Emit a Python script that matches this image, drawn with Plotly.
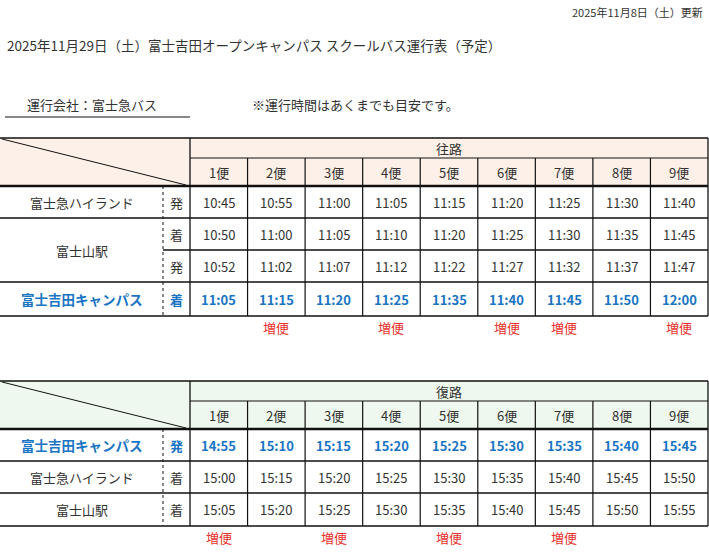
import plotly.graph_objects as go

updated = "2025年11月8日（土）更新"
title = "2025年11月29日（土）富士吉田オープンキャンパス スクールバス運行表（予定）"
company = "運行会社：富士急バス"
note = "※運行時間はあくまでも目安です。"
bins = ["1便", "2便", "3便", "4便", "5便", "6便", "7便", "8便", "9便"]

out_title = "往路"
out_stations = ["富士急ハイランド", "富士山駅", "富士山駅", "富士吉田キャンパス"]
out_kinds = ["発", "着", "発", "着"]
out_times = [
    ["10:45", "10:55", "11:00", "11:05", "11:15", "11:20", "11:25", "11:30", "11:40"],
    ["10:50", "11:00", "11:05", "11:10", "11:20", "11:25", "11:30", "11:35", "11:45"],
    ["10:52", "11:02", "11:07", "11:12", "11:22", "11:27", "11:32", "11:37", "11:47"],
    ["11:05", "11:15", "11:20", "11:25", "11:35", "11:40", "11:45", "11:50", "12:00"],
]
out_extra = [0, 1, 0, 1, 0, 1, 1, 0, 1]

ret_title = "復路"
ret_stations = ["富士吉田キャンパス", "富士急ハイランド", "富士山駅"]
ret_kinds = ["発", "着", "着"]
ret_times = [
    ["14:55", "15:10", "15:15", "15:20", "15:25", "15:30", "15:35", "15:40", "15:45"],
    ["15:00", "15:15", "15:20", "15:25", "15:30", "15:35", "15:40", "15:45", "15:50"],
    ["15:05", "15:20", "15:25", "15:30", "15:35", "15:40", "15:45", "15:50", "15:55"],
]
ret_extra = [1, 0, 1, 0, 1, 0, 1, 0, 0]
extra_label = "増便"

FONT = "Noto Sans CJK JP"
TXT = "#333333"
BLUE = "#1a74c4"
RED = "#e8322d"
shapes, anns = [], []

def text(x, y, s, size=13, color=TXT, bold=False, xanchor="center"):
    anns.append(dict(x=x, y=y, text=f"<b>{s}</b>" if bold else s, showarrow=False,
                     xanchor=xanchor, yanchor="middle", font=dict(family=FONT, size=size, color=color)))

def line(x0, y0, x1, y1, w=1.3, dash=None):
    shapes.append(dict(type="line", x0=x0, y0=y0, x1=x1, y1=y1,
                       line=dict(color="#111", width=w, dash=dash) if dash else dict(color="#111", width=w)))

XL, XK, X0, XR = 0, 163, 190, 708
cw = (XR - X0) / 9

def table(top, hfill, htitle, stations, kinds, times, extra, blue_row, merged):
    h1, h2 = top + 20, top + 48
    rows = len(times)
    rh = 32
    ys = [h2 + i * rh for i in range(rows + 1)]
    bottom = ys[-1] + (2 if rows == 4 else 1)
    ys[-1] = bottom
    shapes.append(dict(type="rect", x0=XL, y0=top, x1=XR, y1=h2, fillcolor=hfill, line=dict(width=0), layer="below"))
    line(XL, top, XR, top, 1.5)
    line(X0, h1, XR, h1, 1.2)
    line(XL, h2, XR, h2, 2.6)
    line(XL + 2, top + 1, X0 - 4, h2 - 1, 1)
    line(XL, bottom, XR, bottom, 1.5)
    line(X0, top, X0, bottom, 1.3)
    line(XR, top, XR, bottom, 1.3)
    for i in range(1, 9):
        line(X0 + i * cw, h1, X0 + i * cw, bottom, 1.2)
    line(XK, h2, XK, bottom, 1, "dot")
    text((X0 + XR) / 2, (top + h1) / 2, htitle)
    for i, b in enumerate(bins):
        text(X0 + (i + 0.5) * cw, (h1 + h2) / 2, b)
    r = 0
    while r < rows:
        span = 2 if (merged is not None and r == merged) else 1
        y0, y1 = ys[r], ys[r + span]
        if r + span < rows:
            line(XL, y1, XR, y1, 1.5)
        if span == 2:
            line(XK, ys[r + 1], XR, ys[r + 1], 1.5)
        isb = r == blue_row
        text(XK / 2, (y0 + y1) / 2, stations[r], 13.5 if isb else 13, BLUE if isb else TXT, isb)
        for k in range(span):
            rr = r + k
            yc = (ys[rr] + ys[rr + 1]) / 2
            text((XK + X0) / 2, yc, kinds[rr], 13, BLUE if isb else TXT, isb)
            for i, t in enumerate(times[rr]):
                text(X0 + (i + 0.5) * cw, yc, t, 13, BLUE if isb else TXT, isb)
        r += span
    for i, e in enumerate(extra):
        if e:
            text(X0 + (i + 0.5) * cw, bottom + 11, extra_label, 13, RED)

text(705, 12, updated, 11, xanchor="right")
text(5, 45, title, 13.5, xanchor="left")
text(25, 104, company, 13, xanchor="left")
line(5, 117, 190, 117, 1)
text(250, 104, note, 13, xanchor="left")

table(138, "#fdf0e8", out_title, out_stations, out_kinds, out_times, out_extra, 3, 1)
table(381, "#eef8ee", ret_title, ret_stations, ret_kinds, ret_times, ret_extra, 0, None)

fig = go.Figure()
fig.update_layout(width=709, height=553, margin=dict(l=0, r=0, t=0, b=0),
                  paper_bgcolor="white", plot_bgcolor="white",
                  xaxis=dict(range=[0, 709], visible=False, fixedrange=True),
                  yaxis=dict(range=[553, 0], visible=False, fixedrange=True),
                  shapes=shapes, annotations=anns, showlegend=False)
fig.write_html("out.html", config={"displayModeBar": False},
               post_script="document.body.style.margin='0';document.body.style.overflow='hidden';")
